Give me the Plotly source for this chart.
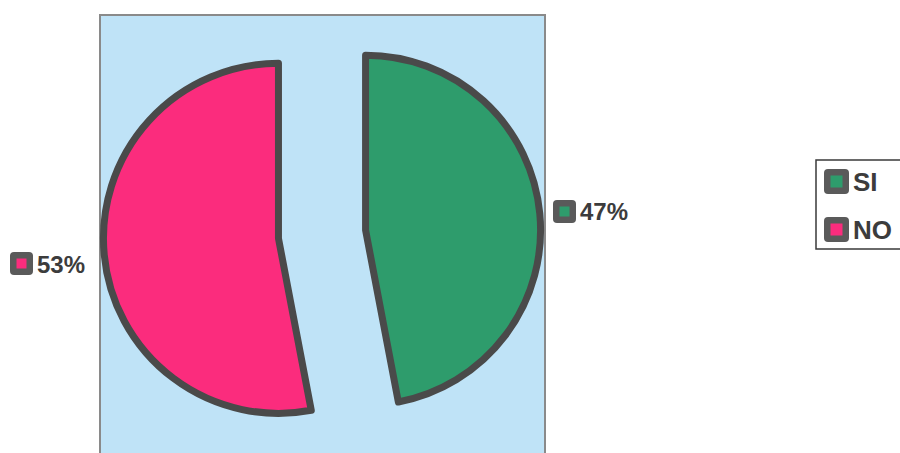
import plotly.graph_objects as go

# ---- data ----
labels = ["SI", "NO"]
values = [47, 53]
pct_text = ["47%", "53%"]
colors = ["#2e9c6c", "#fb2c7d"]

W, H = 900, 453

def px(x):
    return x / W

def py(y):
    return 1 - y / H

def rrect(x0, y0, x1, y1, r):
    pts = [
        f"M {px(x0 + r)},{py(y0)}",
        f"L {px(x1 - r)},{py(y0)}",
        f"Q {px(x1)},{py(y0)} {px(x1)},{py(y0 + r)}",
        f"L {px(x1)},{py(y1 - r)}",
        f"Q {px(x1)},{py(y1)} {px(x1 - r)},{py(y1)}",
        f"L {px(x0 + r)},{py(y1)}",
        f"Q {px(x0)},{py(y1)} {px(x0)},{py(y1 - r)}",
        f"L {px(x0)},{py(y0 + r)}",
        f"Q {px(x0)},{py(y0)} {px(x0 + r)},{py(y0)}",
        "Z",
    ]
    return " ".join(pts)

fig = go.Figure()
fig.add_trace(go.Pie(
    labels=labels,
    values=values,
    sort=False,
    direction="clockwise",
    rotation=0,
    pull=[0.25, 0.25],
    marker=dict(colors=colors, line=dict(color="#4a4a4a", width=7)),
    textinfo="none",
    hoverinfo="skip",
    showlegend=False,
    domain=dict(x=[0.1078, 0.6078], y=[0.0, 0.9658]),
))

shapes = []
shapes.append(dict(type="rect", xref="paper", yref="paper",
                   x0=px(100), x1=px(545), y0=py(470), y1=py(15),
                   fillcolor="#bfe3f7", line=dict(color="#8a8a8a", width=2),
                   layer="below"))
shapes.append(dict(type="rect", xref="paper", yref="paper",
                   x0=px(816), x1=px(910), y0=py(249), y1=py(160),
                   fillcolor="white", line=dict(color="#3a3a3a", width=1.5),
                   layer="below"))

annotations = []

def marker(x0, y0, size, inner, color):
    shapes.append(dict(type="path", xref="paper", yref="paper",
                       path=rrect(x0, y0, x0 + size, y0 + size, 4),
                       fillcolor="#5a5a5a", line=dict(width=0)))
    c = size / 2
    shapes.append(dict(type="rect", xref="paper", yref="paper",
                       x0=px(x0 + c - inner / 2), x1=px(x0 + c + inner / 2),
                       y0=py(y0 + c + inner / 2), y1=py(y0 + c - inner / 2),
                       fillcolor=color, line=dict(width=0)))

label_pos = [(553, 200), (10, 252)]
for (mx, my), t, c in zip(label_pos, pct_text, colors):
    marker(mx, my, 23, 10, c)
    annotations.append(dict(x=px(mx + 25), y=py(my + 12), xref="paper", yref="paper",
                            text=f"<b>{t}</b>", showarrow=False, xanchor="left", yanchor="middle",
                            font=dict(family="Liberation Sans, Arial", size=24,
                                      color="#3c3c3c")))

leg_pos = [(824, 169), (824, 217)]
for (mx, my), t, c in zip(leg_pos, labels, colors):
    marker(mx, my, 25, 12, c)
    annotations.append(dict(x=px(mx + 27), y=py(my + 13), xref="paper", yref="paper",
                            text=f"<b>{t}</b>", showarrow=False, xanchor="left", yanchor="middle",
                            font=dict(family="Liberation Sans, Arial", size=26,
                                      color="#3c3c3c")))

fig.update_layout(
    width=W, height=H,
    margin=dict(l=0, r=0, t=0, b=0),
    paper_bgcolor="white",
    plot_bgcolor="white",
    shapes=shapes,
    annotations=annotations,
    showlegend=False,
)

fig.write_html("out.html", config={"displayModeBar": False},
               post_script="document.body.style.margin='0';document.body.style.overflow='hidden';")
